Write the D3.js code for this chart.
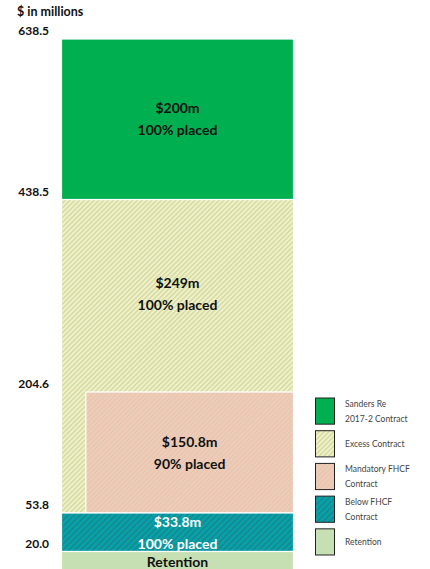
<!DOCTYPE html>
<html><head><meta charset="utf-8">
<script src="https://cdn.jsdelivr.net/npm/d3@7"></script>
<style>body{margin:0;background:#fff;} svg{display:block;}</style>
</head><body>
<script>
// ---- data ----
const tickValues = [20.0, 53.8, 204.6, 438.5, 638.5];
const tickLabels = ["20.0", "53.8", "204.6", "438.5", "638.5"];
const layerNames = ["Retention", "Below FHCF", "Mandatory FHCF", "Excess", "Sanders Re"];
const layerBottoms = [0, 20.0, 53.8, 53.8, 438.5];
const layerTops = [20.0, 53.8, 204.6, 438.5, 638.5];
const layerXStart = [0, 0, 0.105, 0, 0]; // fraction of bar width where layer starts
const labelLine1 = ["Retention", "$33.8m", "$150.8m", "$249m", "$200m"];
const labelLine2 = ["", "100% placed", "90% placed", "100% placed", "100% placed"];
const legendLabels = [["Sanders Re", "2017-2 Contract"], ["Excess Contract"], ["Mandatory FHCF", "Contract"], ["Below FHCF", "Contract"], ["Retention"]];
const legendKeys = ["Sanders Re", "Excess", "Mandatory FHCF", "Below FHCF", "Retention"];

const W = 430, H = 569;
const svg = d3.select("body").append("svg").attr("width", W).attr("height", H);

// piecewise scale matching the reference (non-uniform spacing)
const y = d3.scaleLinear().domain([0, 20.0, 53.8, 204.6, 438.5, 638.5]).range([574, 551.5, 513, 392, 199.5, 39]);
const x = d3.scaleLinear().domain([0, 1]).range([61.5, 293.5]);

const defs = svg.append("defs");
function hatch(id, bg, fg, size, lw) {
  const p = defs.append("pattern").attr("id", id).attr("patternUnits", "userSpaceOnUse")
    .attr("width", size).attr("height", size).attr("patternTransform", "rotate(45)");
  p.append("rect").attr("width", size).attr("height", size).attr("fill", bg);
  p.append("rect").attr("x", 0).attr("width", lw).attr("height", size).attr("fill", fg);
}
hatch("hExcess", "#F4F0C6", "#CBD9A2", 3.4, 1.3);
hatch("hMand", "#F6C8B8", "#D2CDB0", 3.4, 1.0);
hatch("hBelow", "#00A89A", "#1C82A6", 4.2, 1.8);

const fills = {
  "Retention": "#C6DFB3",
  "Below FHCF": "url(#hBelow)",
  "Mandatory FHCF": "url(#hMand)",
  "Excess": "url(#hExcess)",
  "Sanders Re": "#00B050"
};

// draw in order: excess first, then mandatory over it
const order = [3, 4, 2, 1, 0];
order.forEach(i => {
  svg.append("rect")
    .attr("x", x(layerXStart[i]))
    .attr("y", y(layerTops[i]))
    .attr("width", x(1) - x(layerXStart[i]))
    .attr("height", y(layerBottoms[i]) - y(layerTops[i]))
    .attr("fill", fills[layerNames[i]])
    .attr("stroke", "#fff").attr("stroke-width", 1.2);
});

const font = "Lato, 'Open Sans', sans-serif";
// labels in segments
const textCfg = [
  {cy: 562, color: "#111"},
  {cy: 522, color: "#fff"},
  {cy: 442, color: "#111"},
  {cy: 283, color: "#111"},
  {cy: 108, color: "#111"}
];
layerNames.forEach((n, i) => {
  const cx = (x(layerXStart[i]) + x(1)) / 2;
  const c = textCfg[i];
  svg.append("text").attr("x", cx).attr("y", c.cy).attr("dy", "0.35em")
    .attr("text-anchor", "middle").attr("font-family", font).attr("font-weight", "bold")
    .attr("font-size", 14).attr("fill", c.color).text(labelLine1[i]);
  if (labelLine2[i]) {
    svg.append("text").attr("x", cx).attr("y", c.cy + 22).attr("dy", "0.35em")
      .attr("text-anchor", "middle").attr("font-family", font).attr("font-weight", "bold")
      .attr("font-size", 14).attr("fill", c.color).text(labelLine2[i]);
  }
});

// axis labels
svg.append("text").attr("x", 17).attr("y", 12).attr("dy", "0.35em")
  .attr("font-family", font).attr("font-weight", "bold").attr("font-size", 12.5).attr("fill", "#111")
  .text("$ in millions");
tickValues.forEach((v, i) => {
  svg.append("text").attr("x", 49).attr("y", y(v) - 8).attr("dy", "0.35em")
    .attr("text-anchor", "end").attr("font-family", font).attr("font-weight", "bold")
    .attr("font-size", 12).attr("fill", "#111").text(tickLabels[i]);
});

// legend
const legFill = {
  "Sanders Re": "#00B050", "Excess": "url(#hExcess)", "Mandatory FHCF": "url(#hMand)",
  "Below FHCF": "url(#hBelow)", "Retention": "#C6DFB3"
};
const ly = d3.scaleBand().domain(legendKeys).range([398, 555]).paddingInner(0.2);
legendKeys.forEach((k, i) => {
  const y0 = ly(k);
  svg.append("rect").attr("x", 315.5).attr("y", y0).attr("width", 19).attr("height", ly.bandwidth())
    .attr("fill", legFill[k]).attr("stroke", "#222").attr("stroke-width", 1);
  const lines = legendLabels[i];
  const cy = y0 + ly.bandwidth() / 2;
  lines.forEach((t, j) => {
    const off = lines.length === 1 ? 0 : (j === 0 ? -7.5 : 7.5);
    svg.append("text").attr("x", 345).attr("y", cy + off).attr("dy", "0.35em")
      .attr("font-family", font).attr("font-size", 8.5).attr("fill", "#444").text(t);
  });
});
</script>
</body></html>
